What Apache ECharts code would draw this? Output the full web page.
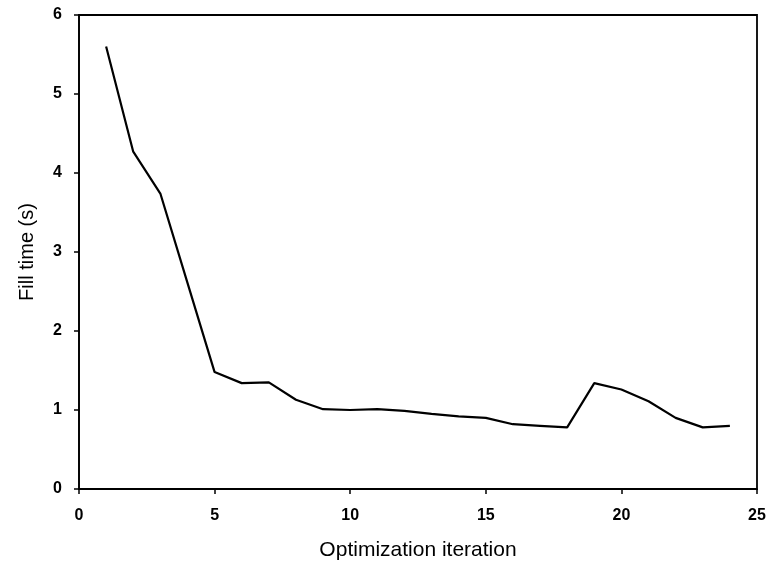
<!DOCTYPE html>
<html>
<head>
<meta charset="utf-8">
<script src="https://cdn.jsdelivr.net/npm/echarts@6/dist/echarts.min.js"></script>
<style>
  html, body { margin: 0; padding: 0; background: #fff; }
  #chart { width: 770px; height: 566px; }
</style>
</head>
<body>
<div id="chart"></div>
<script>
const iterations = [1, 2, 3, 4, 5, 6, 7, 8, 9, 10, 11, 12, 13, 14, 15, 16, 17, 18, 19, 20, 21, 22, 23, 24];
const fillTimes = [5.6, 4.27, 3.74, 2.61, 1.48, 1.34, 1.35, 1.13, 1.01, 1.0, 1.01, 0.99, 0.95, 0.92, 0.9, 0.82, 0.8, 0.78, 1.34, 1.26, 1.11, 0.9, 0.78, 0.8];
const xTicks = [0, 5, 10, 15, 20, 25];
const yTicks = [0, 1, 2, 3, 4, 5, 6];

const chart = echarts.init(document.getElementById("chart"));
const fontFamily = "'Liberation Sans', Arial, sans-serif";

chart.setOption({
  animation: false,
  backgroundColor: "#fff",
  grid: {
    left: 79,
    right: 13,
    top: 15,
    bottom: 77,
    show: true,
    borderColor: "#000",
    borderWidth: 1.8,
  },
  xAxis: {
    type: "value",
    min: xTicks[0],
    max: xTicks[xTicks.length - 1],
    interval: 5,
    name: "Optimization iteration",
    nameLocation: "middle",
    nameGap: 51,
    nameTextStyle: { color: "#000", fontSize: 21, fontFamily },
    axisLine: { lineStyle: { color: "#000", width: 1.5 } },
    axisTick: { show: true, inside: false, length: 5, lineStyle: { color: "#000", width: 1.5 } },
    axisLabel: { color: "#000", fontSize: 16, fontWeight: "bold", fontFamily, margin: 19 },
    splitLine: { show: false },
  },
  yAxis: {
    type: "value",
    min: yTicks[0],
    max: yTicks[yTicks.length - 1],
    interval: 1,
    name: "Fill time (s)",
    nameLocation: "middle",
    nameGap: 42,
    nameTextStyle: { color: "#000", fontSize: 20, fontFamily },
    axisLine: { lineStyle: { color: "#000", width: 1.5 } },
    axisTick: { show: true, inside: false, length: 5, lineStyle: { color: "#000", width: 1.5 } },
    axisLabel: { color: "#000", fontSize: 16, fontWeight: "bold", fontFamily, margin: 17 },
    splitLine: { show: false },
  },
  series: [
    {
      type: "line",
      data: iterations.map((x, i) => [x, fillTimes[i]]),
      showSymbol: false,
      lineStyle: { color: "#000", width: 2.2 },
    },
  ],
});

window.addEventListener("resize", () => chart.resize());
</script>
</body>
</html>
